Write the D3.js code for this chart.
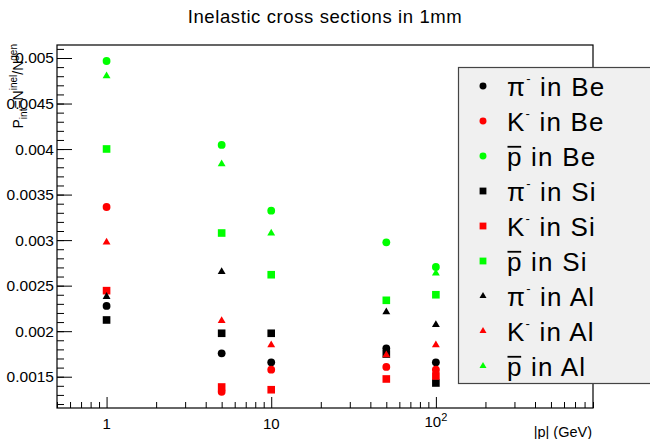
<!doctype html>
<html>
<head>
<style>
    body { margin: 0; background: #fff; }
    text { font-family: "Liberation Sans", Arial, sans-serif; fill: #000; }
</style>
</head>
<body>
    <div class="container"></div>

    <script src="https://d3js.org/d3.v7.min.js"></script>

    <script>
        // momentum points (GeV)
        const momenta = [1, 5, 10, 50, 100];

        // interaction probability
        const piBe   = [0.002277, 0.001757, 0.001658, 0.001810, 0.001658];
        const kBe    = [0.003364, 0.001335, 0.001577, 0.001607, 0.001577];
        const pbarBe = [0.004967, 0.004045, 0.003323, 0.002976, 0.002706];
        const piSi   = [0.002123, 0.001977, 0.001977, 0.001749, 0.001431];
        const kSi    = [0.002445, 0.001387, 0.001357, 0.001475, 0.001508];
        const pbarSi = [0.004001, 0.003078, 0.002620, 0.002339, 0.002400];
        const piAl   = [0.002379, 0.002653, null,     0.002211, 0.002071];
        const kAl    = [0.002976, 0.002115, 0.001848, 0.001738, 0.001848];
        const pbarAl = [0.004802, 0.003836, 0.003075, null,     0.002636];

        const yTicks = [0.0015, 0.002, 0.0025, 0.003, 0.0035, 0.004, 0.0045, 0.005];
        const xTicks = [1, 10, 100];
        const xTickLabels = [['1'], ['10'], ['10', '2']];

        const series = [
            {values: piBe,   particle: 'pi',   target: 'Be', shape: d3.symbolCircle,   color: '#000'},
            {values: kBe,    particle: 'K',    target: 'Be', shape: d3.symbolCircle,   color: '#ff0000'},
            {values: pbarBe, particle: 'pbar', target: 'Be', shape: d3.symbolCircle,   color: '#00ff00'},
            {values: piSi,   particle: 'pi',   target: 'Si', shape: d3.symbolSquare,   color: '#000'},
            {values: kSi,    particle: 'K',    target: 'Si', shape: d3.symbolSquare,   color: '#ff0000'},
            {values: pbarSi, particle: 'pbar', target: 'Si', shape: d3.symbolSquare,   color: '#00ff00'},
            {values: piAl,   particle: 'pi',   target: 'Al', shape: d3.symbolTriangle, color: '#000'},
            {values: kAl,    particle: 'K',    target: 'Al', shape: d3.symbolTriangle, color: '#ff0000'},
            {values: pbarAl, particle: 'pbar', target: 'Al', shape: d3.symbolTriangle, color: '#00ff00'}
        ];

        const W = 650, H = 439;
        const frame = {left: 57, top: 45, right: 593, bottom: 408};

        const svg = d3.select('.container').append('svg').attr('width', W).attr('height', H);

        const x = d3.scaleLog().domain([0.5, 900]).range([frame.left, frame.right]);
        const y = d3.scaleLinear().domain([0.0011563, 0.0051428]).range([frame.bottom, frame.top]);

        const markerSize = (shape, k) => {
            if (shape === d3.symbolCircle) return 48 * k;
            if (shape === d3.symbolSquare) return 58 * k;
            return 27 * k;
        };

        // title
        svg.append('text')
            .attr('x', 325).attr('y', 23)
            .attr('text-anchor', 'middle')
            .style('font-size', '18.5px')
            .style('letter-spacing', '0.6px')
            .text('Inelastic cross sections in 1mm');

        // frame
        svg.append('rect')
            .attr('x', frame.left).attr('y', frame.top)
            .attr('width', frame.right - frame.left).attr('height', frame.bottom - frame.top)
            .attr('fill', 'none').attr('stroke', '#000').attr('stroke-width', 1.2);

        // y axis, ticks pointing inwards
        const yMinor = d3.range(12, 52).map(d => d / 10000);
        svg.append('g')
            .attr('transform', `translate(${frame.left},0)`)
            .call(d3.axisLeft(y).tickValues(yMinor).tickSize(-7).tickFormat(''))
            .call(g => g.select('.domain').remove());
        svg.append('g')
            .attr('transform', `translate(${frame.left},0)`)
            .call(d3.axisLeft(y).tickValues(yTicks).tickSize(-15).tickPadding(3).tickFormat(d3.format('~g')))
            .call(g => g.select('.domain').remove())
            .call(g => g.selectAll('text').style('font-size', '15.5px').attr('font-family', null));

        // x axis
        const xMinor = [];
        [0.1, 1, 10, 100].forEach(dec => d3.range(2, 10).forEach(m => {
            const v = dec * m;
            if (v >= 0.5 && v <= 900) xMinor.push(v);
        }));
        svg.append('g')
            .attr('transform', `translate(0,${frame.bottom})`)
            .call(d3.axisBottom(x).tickValues(xMinor).tickSize(-6).tickFormat(''))
            .call(g => g.select('.domain').remove());
        svg.append('g')
            .attr('transform', `translate(0,${frame.bottom})`)
            .call(d3.axisBottom(x).tickValues(xTicks).tickSize(-11).tickFormat(''))
            .call(g => g.select('.domain').remove());

        xTicks.forEach((t, i) => {
            const lab = xTickLabels[i];
            const txt = svg.append('text')
                .attr('x', x(t)).attr('y', 429)
                .attr('text-anchor', 'middle')
                .style('font-size', '15px');
            txt.append('tspan').text(lab[0]);
            if (lab[1]) {
                txt.attr('y', 427);
                txt.append('tspan').attr('dy', -6).style('font-size', '11px').text(lab[1]);
            }
        });

        // axis titles
        svg.append('text')
            .attr('x', 592).attr('y', 437)
            .attr('text-anchor', 'end')
            .style('font-size', '14.5px')
            .text('|p| (GeV)');

        const yl = svg.append('text')
            .attr('transform', 'translate(23,44) rotate(-90)')
            .attr('text-anchor', 'end')
            .style('font-size', '14px');
        yl.append('tspan').text('P');
        yl.append('tspan').attr('dy', 4).style('font-size', '10px').text('int');
        yl.append('tspan').attr('dy', -4).text('=N');
        yl.append('tspan').attr('dy', -6).style('font-size', '10px').text('inel');
        yl.append('tspan').attr('dy', 6).text('/N');
        yl.append('tspan').attr('dy', -6).style('font-size', '10px').text('gen');

        // markers
        series.forEach(s => {
            const pts = momenta.map((m, i) => ({m, v: s.values[i]})).filter(d => d.v !== null);
            svg.append('g').selectAll('path').data(pts).enter().append('path')
                .attr('transform', d => `translate(${x(d.m)},${y(d.v)})`)
                .attr('d', d3.symbol().type(s.shape).size(markerSize(s.shape, 1)))
                .attr('fill', s.color);
        });

        // legend
        const leg = svg.append('g');
        leg.append('rect')
            .attr('x', 458.5).attr('y', 67.5)
            .attr('width', 200).attr('height', 316)
            .attr('fill', '#f0f0f0').attr('stroke', '#444').attr('stroke-width', 1.2);

        const legFs = 26;
        series.forEach((s, i) => {
            const cy = 86 + i * 35;
            leg.append('path')
                .attr('transform', `translate(483,${cy})`)
                .attr('d', d3.symbol().type(s.shape).size(markerSize(s.shape, 0.8)))
                .attr('fill', s.color);

            const t = leg.append('text')
                .attr('x', 507).attr('y', cy + 9.5)
                .style('font-size', legFs + 'px')
                .style('letter-spacing', '1.2px')
                .attr('xml:space', 'preserve');
            if (s.particle === 'pbar') {
                const p = t.append('tspan').text('p');
                t.append('tspan').text(' in ' + s.target);
                const w = p.node().getComputedTextLength();
                leg.append('line')
                    .attr('x1', 507.5).attr('x2', 507 + w - 1.5)
                    .attr('y1', cy + 9.5 - 0.72 * legFs).attr('y2', cy + 9.5 - 0.72 * legFs)
                    .attr('stroke', '#000').attr('stroke-width', 1.8);
            } else {
                t.append('tspan').text(s.particle === 'pi' ? 'π' : 'K');
                t.append('tspan').attr('dy', -13).style('font-size', '13px').text('-');
                t.append('tspan').attr('dy', 13).text(' in ' + s.target);
            }
        });
    </script>
</body>
</html>
